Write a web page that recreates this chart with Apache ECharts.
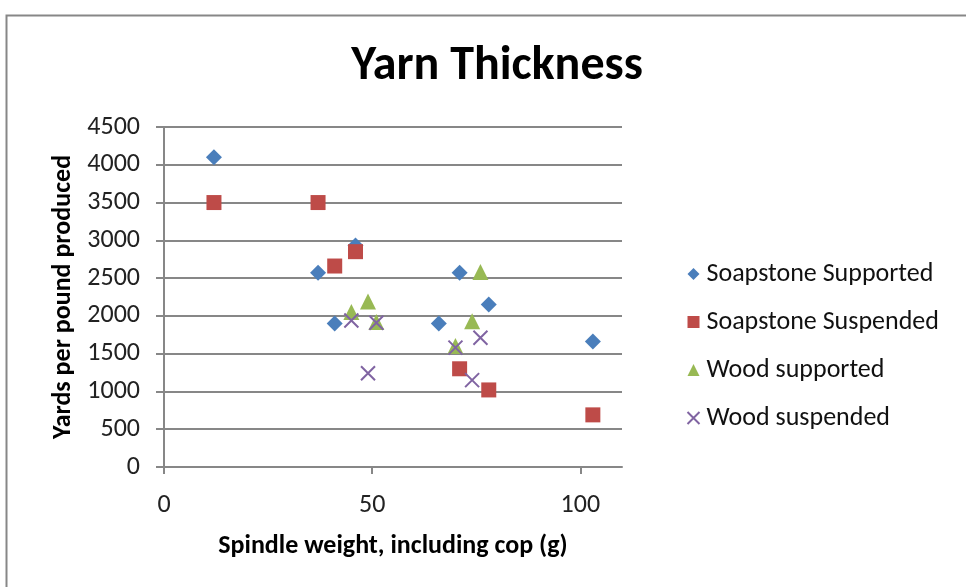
<!DOCTYPE html>
<html>
<head>
<meta charset="utf-8">
<script src="https://cdn.jsdelivr.net/npm/echarts@6/dist/echarts.min.js"></script>
<style>
  html, body { margin: 0; padding: 0; background: #fff; }
  #chart { width: 966px; height: 587px; }
</style>
</head>
<body>
<div id="chart"></div>
<script>
// values: [spindle weight g, yards per pound]
const soapSupported = [[12, 4100], [37, 2570], [41, 1900], [46, 2930], [66, 1900], [71, 2570], [78, 2150], [103, 1660]]
const soapSuspended = [[12, 3500], [37, 3500], [41, 2660], [46, 2850], [71, 1300], [78, 1020], [103, 690]]
const woodSupported = [[45, 2050], [49, 2190], [51, 1920], [76, 2580], [74, 1930], [70, 1600]]
const woodSuspended = [[45, 1940], [51, 1910], [49, 1240], [70, 1580], [76, 1710], [74, 1150]]
const xTicks = [0, 50, 100]
const yTicks = [0, 500, 1000, 1500, 2000, 2500, 3000, 3500, 4000, 4500]

const font = "Calibri, Carlito, 'Open Sans', sans-serif"
const gray = "#878787"
const crossPath = "path://M0,0 L10,10 M10,0 L0,10"

let myChart = echarts.init(document.getElementById("chart"))
myChart.setOption({
  animation: false,
  textStyle: { fontFamily: font },
  title: {
    text: "Yarn Thickness",
    left: 492,
    textAlign: "center",
    top: 38,
    textStyle: { fontSize: 48, fontWeight: "bold", color: "#000", fontFamily: font }
  },
  graphic: [{
    type: "rect",
    shape: { x: 6.5, y: 15.5, width: 1000, height: 700 },
    style: { fill: "none", stroke: gray, lineWidth: 2 },
    silent: true
  }],
  grid: { left: 164, right: 344, top: 127, bottom: 120 },
  xAxis: {
    type: "value",
    min: 0, max: 110, interval: 50,
    name: "Spindle weight, including cop (g)",
    nameLocation: "middle",
    nameGap: 66,
    nameTextStyle: { fontSize: 26, fontWeight: "bold", color: "#000", fontFamily: font },
    axisLine: { show: true, onZero: false, lineStyle: { color: gray, width: 2 } },
    axisTick: { show: true, length: 7, lineStyle: { color: gray, width: 2 },
      customValues: xTicks },
    axisLabel: { fontSize: 26, color: "#222", margin: 25, customValues: xTicks },
    splitLine: { show: false }
  },
  yAxis: {
    type: "value",
    min: 0, max: 4500, interval: 500,
    name: "Yards per pound produced",
    nameLocation: "middle",
    nameGap: 88,
    nameTextStyle: { fontSize: 26, fontWeight: "bold", color: "#000", fontFamily: font },
    axisLine: { show: true, onZero: false, lineStyle: { color: gray, width: 2 } },
    axisTick: { show: true, length: 8, lineStyle: { color: gray, width: 2 } },
    axisLabel: { fontSize: 26, color: "#222", margin: 24, customValues: yTicks,
      formatter: v => String(v) },
    splitLine: { show: true, lineStyle: { color: gray, width: 2 } }
  },
  legend: {
    orient: "vertical",
    left: 680,
    top: 256,
    itemGap: 22,
    itemWidth: 12,
    itemHeight: 12,
    textStyle: { fontSize: 26, color: "#111", fontFamily: font, padding: [0, 0, 0, 2] },
    data: [
      { name: "Soapstone Supported", icon: "diamond" },
      { name: "Soapstone Suspended", icon: "rect" },
      { name: "Wood supported", icon: "triangle" },
      { name: "Wood suspended", icon: crossPath, itemStyle: { color: "none", borderColor: "#8064a2", borderWidth: 2 } }
    ]
  },
  series: [
    {
      type: "scatter", name: "Soapstone Supported", data: soapSupported,
      symbol: "diamond", symbolSize: 16,
      itemStyle: { color: "#4a7ebb", opacity: 1 }
    },
    {
      type: "scatter", name: "Soapstone Suspended", data: soapSuspended,
      symbol: "rect", symbolSize: 15,
      itemStyle: { color: "#be4b48", opacity: 1 }
    },
    {
      type: "scatter", name: "Wood supported", data: woodSupported,
      symbol: "triangle", symbolSize: 16,
      itemStyle: { color: "#98b954", opacity: 1 }
    },
    {
      type: "scatter", name: "Wood suspended", data: woodSuspended,
      symbol: crossPath, symbolSize: 14,
      itemStyle: { color: "none", borderColor: "#8064a2", borderWidth: 2, opacity: 1 }
    }
  ]
})
</script>
</body>
</html>
